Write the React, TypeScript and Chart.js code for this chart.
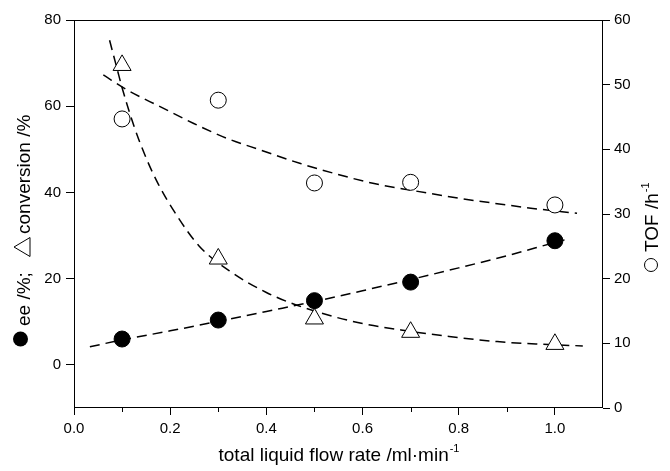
import React, { useEffect, useRef } from "react";
import { Chart, registerables } from "chart.js";

Chart.register(...registerables);

// Measured points
const flowX = [0.1, 0.3, 0.5, 0.7, 1.0];
const eeValues = [6.0, 10.4, 14.9, 19.2, 28.8];
const conversionValues = [69.5, 24.6, 10.7, 7.6, 4.8];
const tofValues = [44.7, 47.6, 34.8, 34.9, 31.4];

// Dashed fit curves
const eeFitX = [0.033, 0.1, 0.2, 0.3, 0.4, 0.5, 0.6, 0.7, 0.8, 0.9, 1.0, 1.02];
const eeFitY = [4.2, 5.8, 7.9, 10.1, 12.4, 14.7, 17.2, 19.8, 22.5, 25.3, 28.4, 29.0];

const convFitX = [0.074, 0.09, 0.1, 0.125, 0.15, 0.175, 0.21, 0.26, 0.33, 0.4, 0.45, 0.54, 0.6, 0.68, 0.78, 0.88, 0.97, 1.058];
const convFitY = [75.3, 68.5, 64.3, 55.3, 48.0, 42.0, 35.3, 27.6, 21.3, 16.8, 14.4, 11.2, 9.6, 8.1, 6.6, 5.4, 4.8, 4.4];

const tofFitX = [0.061, 0.11, 0.179, 0.249, 0.318, 0.3875, 0.471, 0.54, 0.624, 0.707, 0.804, 0.88, 0.95, 1.046];
const tofFitY = [51.5, 49.2, 46.6, 44.0, 41.7, 39.9, 37.8, 36.3, 34.7, 33.6, 32.4, 31.6, 30.9, 30.1];

// Axes
const xMin = 0;
const xMax = 1.1;
const xMajorTicks = [0, 0.2, 0.4, 0.6, 0.8, 1.0];
const xMinorTicks = [0.1, 0.3, 0.5, 0.7, 0.9];
const leftMin = -10;
const leftMax = 80;
const leftTicks = [0, 20, 40, 60, 80];
const rightMin = 0;
const rightMax = 60;
const rightTicks = [0, 10, 20, 30, 40, 50, 60];

const xTitle = "total liquid flow rate /ml\u00B7min";
const xTitleSup = "-1";
const leftTitleA = "ee /%;";
const leftTitleB = "conversion /%";
const rightTitle = "TOF /h";
const rightTitleSup = "-1";

const FONT = "'Liberation Sans', Arial, Helvetica, sans-serif";

const pts = (xs: number[], ys: number[]) => xs.map((x, i) => ({ x, y: ys[i] }));

const decorPlugin = {
  id: "decor",
  beforeDatasetsDraw(chart: any) {
    const { ctx, chartArea: a, scales } = chart;
    ctx.save();
    ctx.strokeStyle = "#000";
    ctx.lineWidth = 1;
    ctx.strokeRect(Math.round(a.left) + 0.5, Math.round(a.top) + 0.5, Math.round(a.right - a.left) - 1, Math.round(a.bottom - a.top) - 1);
    // minor x ticks
    for (const v of xMinorTicks) {
      const x = Math.round(scales.x.getPixelForValue(v)) + 0.5;
      ctx.beginPath();
      ctx.moveTo(x, a.bottom);
      ctx.lineTo(x, a.bottom + 4);
      ctx.stroke();
    }
    ctx.restore();
  },
  afterDraw(chart: any) {
    const { ctx, chartArea: a } = chart;
    ctx.save();
    ctx.fillStyle = "#000";
    ctx.strokeStyle = "#000";
    ctx.textBaseline = "alphabetic";
    ctx.textAlign = "left";

    // X title
    ctx.font = `19px ${FONT}`;
    const w1 = ctx.measureText(xTitle).width;
    ctx.font = `11px ${FONT}`;
    const w2 = ctx.measureText(xTitleSup).width;
    const cx = (a.left + a.right) / 2;
    const start = cx - (w1 + w2) / 2;
    ctx.font = `19px ${FONT}`;
    ctx.fillText(xTitle, start, 461);
    ctx.font = `11px ${FONT}`;
    ctx.fillText(xTitleSup, start + w1 + 1, 452);

    // Left title (rotated, reading bottom to top)
    ctx.save();
    ctx.rotate(-Math.PI / 2);
    // local (lx, ly) -> page (ly, -lx)
    ctx.beginPath();
    ctx.arc(-339, 20.5, 7.5, 0, Math.PI * 2);
    ctx.fill();
    ctx.font = `19px ${FONT}`;
    ctx.fillText(leftTitleA, -326, 30);
    const tc = -247;
    ctx.lineWidth = 1;
    ctx.beginPath();
    ctx.moveTo(tc, 14);
    ctx.lineTo(tc + 9.5, 30);
    ctx.lineTo(tc - 9.5, 30);
    ctx.closePath();
    ctx.stroke();
    ctx.fillText(leftTitleB, -234, 30);
    ctx.restore();

    // Right title
    ctx.save();
    ctx.rotate(-Math.PI / 2);
    ctx.lineWidth = 1;
    ctx.beginPath();
    ctx.arc(-265, 651, 6.5, 0, Math.PI * 2);
    ctx.stroke();
    ctx.font = `19px ${FONT}`;
    const tw = ctx.measureText(rightTitle).width;
    ctx.fillText(rightTitle, -252, 658);
    ctx.font = `11px ${FONT}`;
    ctx.fillText(rightTitleSup, -252 + tw + 1, 649);
    ctx.restore();

    ctx.restore();
  },
};

export default function App() {
  const ref = useRef<HTMLCanvasElement | null>(null);

  useEffect(() => {
    const canvas = ref.current;
    if (!canvas) return;
    const tickFont = { family: FONT, size: 15 };
    const chart = new Chart(canvas, {
      type: "scatter",
      data: {
        datasets: [
          {
            label: "ee",
            data: pts(flowX, eeValues),
            yAxisID: "y",
            pointStyle: "circle",
            pointRadius: 8,
            backgroundColor: "#000",
            borderColor: "#000",
            borderWidth: 1,
            showLine: false,
          },
          {
            label: "conversion",
            data: pts(flowX, conversionValues),
            yAxisID: "y",
            pointStyle: "triangle",
            pointRadius: 10.4,
            backgroundColor: "#fff",
            borderColor: "#000",
            borderWidth: 1,
            showLine: false,
          },
          {
            label: "TOF",
            data: pts(flowX, tofValues),
            yAxisID: "y2",
            pointStyle: "circle",
            pointRadius: 8,
            backgroundColor: "#fff",
            borderColor: "#000",
            borderWidth: 1,
            showLine: false,
          },
          {
            label: "ee fit",
            data: pts(eeFitX, eeFitY),
            yAxisID: "y",
            showLine: true,
            pointRadius: 0,
            borderColor: "#000",
            borderWidth: 1.5,
            borderDash: [10, 6],
            cubicInterpolationMode: "monotone",
          },
          {
            label: "conversion fit",
            data: pts(convFitX, convFitY),
            yAxisID: "y",
            showLine: true,
            pointRadius: 0,
            borderColor: "#000",
            borderWidth: 1.5,
            borderDash: [10, 6],
            cubicInterpolationMode: "monotone",
          },
          {
            label: "TOF fit",
            data: pts(tofFitX, tofFitY),
            yAxisID: "y2",
            showLine: true,
            pointRadius: 0,
            borderColor: "#000",
            borderWidth: 1.5,
            borderDash: [10, 6],
            cubicInterpolationMode: "monotone",
          },
        ],
      },
      options: {
        responsive: false,
        animation: false,
        devicePixelRatio: 1,
        layout: { padding: { top: 20, left: 0, right: 0, bottom: 0 } },
        plugins: { legend: { display: false }, tooltip: { enabled: false } },
        scales: {
          x: {
            type: "linear",
            min: xMin,
            max: xMax,
            afterBuildTicks: (s: any) => {
              s.ticks = xMajorTicks.map((v) => ({ value: v }));
            },
            afterFit: (s: any) => {
              s.height = 63;
            },
            ticks: {
              font: tickFont,
              color: "#000",
              padding: 5,
              maxRotation: 0,
              callback: (v: any) => Number(v).toFixed(1),
            },
            grid: { drawOnChartArea: false, drawTicks: true, tickLength: 7, color: "#000", lineWidth: 1 },
            border: { display: false },
          },
          y: {
            type: "linear",
            position: "left",
            min: leftMin,
            max: leftMax,
            afterBuildTicks: (s: any) => {
              s.ticks = leftTicks.map((v) => ({ value: v }));
            },
            afterFit: (s: any) => {
              s.width = 74;
            },
            ticks: { font: tickFont, color: "#000", padding: 5 },
            grid: { drawOnChartArea: false, drawTicks: true, tickLength: 8, color: "#000", lineWidth: 1 },
            border: { display: false },
          },
          y2: {
            type: "linear",
            position: "right",
            min: rightMin,
            max: rightMax,
            afterBuildTicks: (s: any) => {
              s.ticks = rightTicks.map((v) => ({ value: v }));
            },
            afterFit: (s: any) => {
              s.width = 67;
            },
            ticks: { font: tickFont, color: "#000", padding: 4 },
            grid: { drawOnChartArea: false, drawTicks: true, tickLength: 7, color: "#000", lineWidth: 1 },
            border: { display: false },
          },
        },
      },
      plugins: [decorPlugin],
    } as any);
    return () => chart.destroy();
  }, []);

  return (
    <div style={{ position: "fixed", left: 0, top: 0, width: 670, height: 471, background: "#fff" }}>
      <canvas ref={ref} width={670} height={471} style={{ display: "block", width: 670, height: 471 }} />
    </div>
  );
}
